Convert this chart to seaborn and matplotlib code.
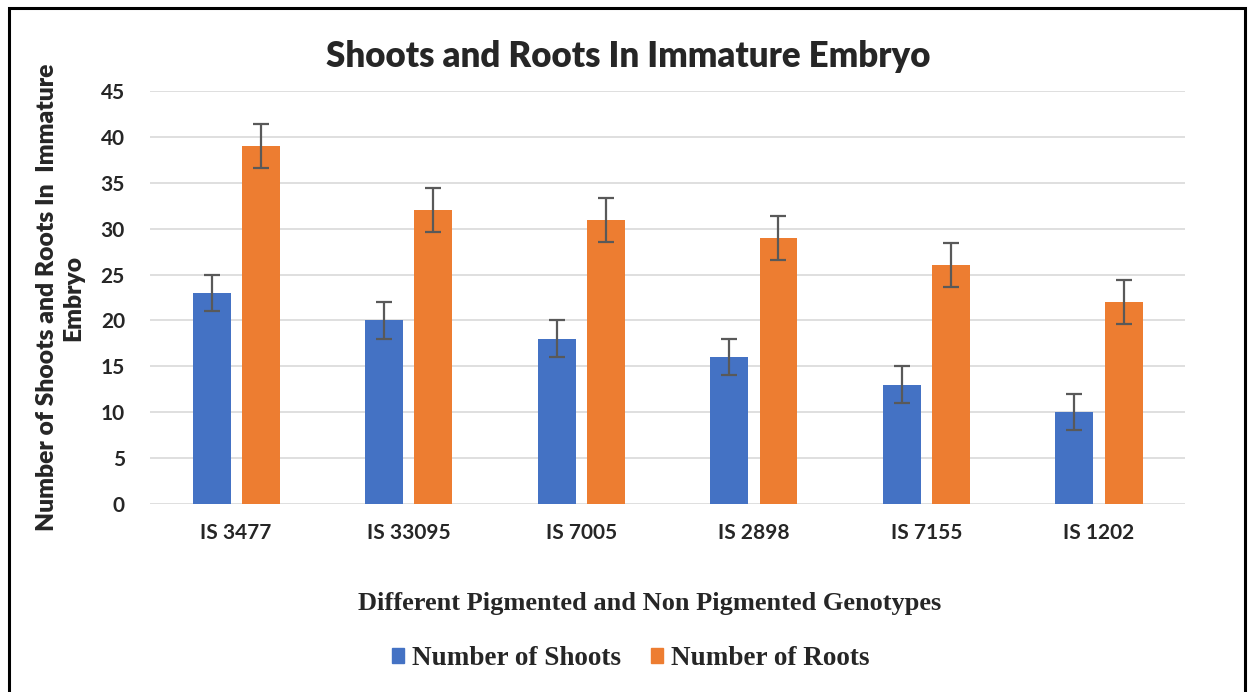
import numpy as np
import pandas as pd
import matplotlib
matplotlib.use("Agg")
import matplotlib.pyplot as plt
import seaborn as sns
from matplotlib.patches import Rectangle

# datos
genotypes = ["IS 3477", "IS 33095", "IS 7005", "IS 2898", "IS 7155", "IS 1202"]
shoots = [23, 20, 18, 16, 13, 10]
roots = [39, 32, 31, 29, 26, 22]
shoots_err = [2, 2, 2, 2, 2, 2]
roots_err = [2.4, 2.4, 2.4, 2.4, 2.4, 2.4]
series = ["Number of Shoots", "Number of Roots"]

df = pd.DataFrame({
    "genotype": genotypes * 2,
    "serie": [series[0]] * len(genotypes) + [series[1]] * len(genotypes),
    "value": shoots + roots,
    "err": shoots_err + roots_err,
})

sns.set_style("white")
plt.rcParams["font.family"] = ["Lato", "DejaVu Sans"]

fig = plt.figure(figsize=(12.49, 6.92), dpi=100)
ax = fig.add_axes([0.12, 0.272, 0.829, 0.596])

sns.barplot(data=df, x="genotype", y="value", hue="serie", ax=ax,
            palette=["#4472C4", "#ED7D31"], saturation=1, width=0.57, gap=0.23,
            errorbar=None, legend=False, edgecolor="none", zorder=3)

# barras de error sobre los centros de las barras
for bar, (v, e) in zip(ax.patches, zip(df["value"], df["err"])):
    xc = bar.get_x() + bar.get_width() / 2
    ax.errorbar(xc, v, yerr=e, color="#595959", capsize=6, capthick=1.6,
                elinewidth=1.6, zorder=4)

ax.set_xlim(-0.5, len(genotypes) - 0.5)
ax.set_ylim(0, 45)
ax.set_yticks(range(0, 46, 5))
ax.yaxis.grid(True, color="#d9d9d9", linewidth=1.2, zorder=0)
ax.set_axisbelow(True)
for s in ax.spines.values():
    s.set_visible(False)
ax.tick_params(axis="y", length=0, pad=18)
ax.tick_params(axis="x", length=0, pad=14)
for lab in ax.get_yticklabels() + ax.get_xticklabels():
    lab.set_fontweight("bold")
    lab.set_fontsize(15)
ax.set_xlabel("")
ax.set_ylabel("Number of Shoots and Roots In  Immature\nEmbryo",
              fontsize=17.7, fontweight="heavy", labelpad=12)

fig.text(0.503, 0.918, "Shoots and Roots In Immature Embryo", ha="center",
         va="center", fontsize=25, fontweight="heavy")

fig.text(0.52, 0.128, "Different Pigmented and Non Pigmented Genotypes",
         ha="center", va="center", fontsize=19, fontweight="bold",
         family="Liberation Serif")

handles = [Rectangle((0, 0), 1, 1, color=c) for c in ["#4472C4", "#ED7D31"]]
fig.legend(handles, series, loc="center", bbox_to_anchor=(0.505, 0.048),
           ncol=2, frameon=False, handlelength=0.45, handleheight=0.45,
           handletextpad=0.3, columnspacing=1.1,
           prop={"family": "Liberation Serif", "weight": "bold", "size": 19.5})

fig.patches.append(Rectangle((0.007, -0.01), 0.99, 0.998, transform=fig.transFigure,
                             fill=False, edgecolor="black", linewidth=2.2))

fig.savefig("out.png", dpi=100)
